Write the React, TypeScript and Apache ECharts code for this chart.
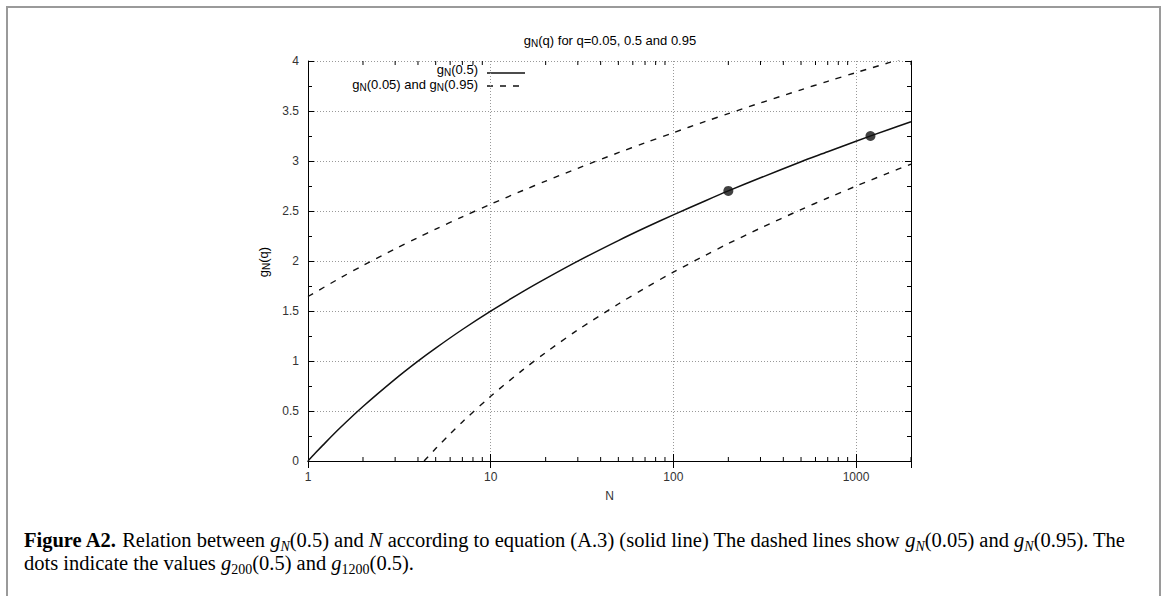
import React, { useEffect, useRef } from "react";
import * as echarts from "echarts";

// N values and g_N(q)
const nMedian = [1, 1.1, 1.2, 1.5, 2, 3, 4, 5, 7, 10, 15, 20, 30, 50, 70, 100, 150, 200, 300, 500, 700, 1000, 1500, 2000];
const gMedian = [0, 0.082, 0.154, 0.332, 0.545, 0.819, 0.999, 1.129, 1.315, 1.499, 1.694, 1.824, 1.999, 2.204, 2.332, 2.461, 2.603, 2.701, 2.832, 2.993, 3.092, 3.198, 3.313, 3.392];

const nUpper = [1, 1.5, 2, 3, 4, 5, 7, 10, 15, 20, 30, 50, 70, 100, 150, 200, 300, 500, 700, 1000, 1500, 2000];
const gUpper = [1.645, 1.83, 1.955, 2.121, 2.234, 2.319, 2.442, 2.568, 2.705, 2.799, 2.927, 3.083, 3.181, 3.283, 3.396, 3.474, 3.581, 3.712, 3.797, 3.884, 3.981, 4.05];

const nLower = [4.32, 4.5, 5, 6, 7, 10, 15, 20, 30, 50, 70, 100, 150, 200, 300, 500, 700, 1000, 1500, 2000];
const gLower = [0, 0.035, 0.124, 0.272, 0.391, 0.647, 0.911, 1.084, 1.311, 1.57, 1.729, 1.888, 2.058, 2.174, 2.329, 2.514, 2.63, 2.749, 2.879, 2.969];

const dotN = [200, 1200];
const dotG = [2.701, 3.25];

const minorXTicks = [2, 3, 4, 5, 6, 7, 8, 9, 20, 30, 40, 50, 60, 70, 80, 90, 200, 300, 400, 500, 600, 700, 800, 900, 2000];
const xTickLabels = [1, 10, 100, 1000];
const yTickLabels = ["0", "0.5", "1", "1.5", "2", "2.5", "3", "3.5", "4"];

const SANS = "'Liberation Sans', Arial, Helvetica, sans-serif";
const SERIF = "'Liberation Serif', 'Times New Roman', serif";

export default function App() {
  const ref = useRef<HTMLDivElement>(null);

  useEffect(() => {
    if (!ref.current) return;
    const chart = echarts.init(ref.current, undefined, { renderer: "svg" });

    const subRich: any = {
      t: { fontSize: 13, fontFamily: SANS, color: "#333", lineHeight: 13 },
      s: {
        fontSize: 10,
        fontFamily: SANS,
        color: "#333",
        lineHeight: 13,
        verticalAlign: "top",
        padding: [5, 0, 0, 0],
      },
    };

    const CF = 20.5;
    const capRich: any = {
      b: { fontFamily: SERIF, fontSize: CF, fontWeight: "bold", color: "#111", lineHeight: 22 },
      n: { fontFamily: SERIF, fontSize: CF, color: "#111", lineHeight: 22 },
      i: { fontFamily: SERIF, fontSize: CF, fontStyle: "italic", color: "#111", lineHeight: 22 },
      s: {
        fontFamily: SERIF,
        fontSize: 14,
        fontStyle: "italic",
        color: "#111",
        lineHeight: 22,
        verticalAlign: "top",
        padding: [10, 0, 0, 0],
      },
      sn: {
        fontFamily: SERIF,
        fontSize: 14,
        color: "#111",
        lineHeight: 22,
        verticalAlign: "top",
        padding: [10, 0, 0, 0],
      },
      l: { fontFamily: SERIF, fontSize: CF, color: "#2a8fce", lineHeight: 22 },
    };

    const option: any = {
      animation: false,
      backgroundColor: "#fff",
      grid: { left: 308, right: 256, top: 61, bottom: 135 },
      xAxis: [
        {
          type: "log",
          logBase: 10,
          min: 1,
          max: 2000,
          position: "bottom",
          name: "N",
          nameLocation: "middle",
          nameGap: 29,
          nameTextStyle: { fontFamily: SANS, fontSize: 12, color: "#333" },
          axisLine: { show: true, lineStyle: { color: "#000", width: 1 } },
          axisTick: { show: true, inside: true, length: 7, lineStyle: { color: "#000" } },
          axisLabel: {
            fontFamily: SANS,
            fontSize: 12,
            color: "#333",
            margin: 10,
            showMaxLabel: false,
            formatter: (v: number) => {
              const hit = xTickLabels.find((t) => Math.abs(t - v) / t < 1e-6);
              return hit !== undefined ? String(hit) : "";
            },
          },
          splitLine: { show: true, lineStyle: { color: "#999", type: [1, 2], width: 1 } },
          minorTick: { show: false },
        },
        {
          type: "log",
          logBase: 10,
          min: 1,
          max: 2000,
          position: "top",
          axisLine: { show: true, lineStyle: { color: "#000", width: 1 } },
          axisTick: { show: true, inside: true, length: 7, lineStyle: { color: "#000" } },
          axisLabel: { show: false },
          splitLine: { show: false },
        },
      ],
      yAxis: [
        {
          type: "value",
          min: 0,
          max: 4,
          interval: 0.5,
          position: "left",
          axisLine: { show: true, lineStyle: { color: "#000", width: 1 } },
          axisTick: { show: true, inside: true, length: 6, lineStyle: { color: "#000" } },
          minorTick: { show: true, splitNumber: 2, length: 4, lineStyle: { color: "#000" } },
          axisLabel: {
            fontFamily: SANS,
            fontSize: 12,
            color: "#333",
            margin: 9,
            formatter: (v: number) => yTickLabels[Math.round(v / 0.5)] ?? String(v),
          },
          splitLine: { show: true, lineStyle: { color: "#999", type: [1, 2], width: 1 } },
        },
        {
          type: "value",
          min: 0,
          max: 4,
          interval: 0.5,
          position: "right",
          axisLine: { show: true, lineStyle: { color: "#000", width: 1 } },
          axisTick: { show: true, inside: true, length: 6, lineStyle: { color: "#000" } },
          minorTick: { show: true, splitNumber: 2, length: 4, lineStyle: { color: "#000" } },
          axisLabel: { show: false },
          splitLine: { show: false },
        },
      ],
      series: [
        {
          type: "line",
          name: "median",
          data: nMedian.map((n, i) => [n, gMedian[i]]),
          smooth: 0.3,
          showSymbol: false,
          lineStyle: { color: "#111", width: 1.5 },
          clip: true,
          z: 5,
        },
        {
          type: "line",
          name: "upper",
          data: nUpper.map((n, i) => [n, gUpper[i]]),
          smooth: 0.3,
          showSymbol: false,
          lineStyle: { color: "#111", width: 1.4, type: [6, 7] },
          clip: true,
          z: 5,
        },
        {
          type: "line",
          name: "lower",
          data: nLower.map((n, i) => [n, gLower[i]]),
          smooth: 0.3,
          showSymbol: false,
          lineStyle: { color: "#111", width: 1.4, type: [6, 7] },
          clip: true,
          z: 5,
        },
        {
          type: "scatter",
          data: dotN.map((n, i) => [n, dotG[i]]),
          symbolSize: 10,
          itemStyle: { color: "#111" },
          z: 6,
        },
        {
          type: "custom",
          data: minorXTicks.map((v) => [v, 0]),
          clip: false,
          silent: true,
          z: 4,
          renderItem: (params: any, api: any) => {
            const v = api.value(0);
            const b = api.coord([v, 0]);
            const t = api.coord([v, 4]);
            return {
              type: "group",
              children: [
                { type: "line", shape: { x1: b[0], y1: b[1], x2: b[0], y2: b[1] - 4 }, style: { stroke: "#000", lineWidth: 1 } },
                { type: "line", shape: { x1: t[0], y1: t[1], x2: t[0], y2: t[1] + 4 }, style: { stroke: "#000", lineWidth: 1 } },
              ],
            };
          },
        },
      ],
      graphic: [
        {
          type: "rect",
          shape: { x: 7, y: 7, width: 1153, height: 620 },
          style: { fill: "none", stroke: "#9a9a9a", lineWidth: 2 },
          silent: true,
        },
        {
          type: "text",
          x: 610,
          y: 40,
          style: {
            text: "{t|g}{s|N}{t|(q) for q=0.05, 0.5 and 0.95}",
            rich: subRich,
            align: "center",
            verticalAlign: "middle",
          },
        },
        {
          type: "text",
          x: 478,
          y: 69,
          style: {
            text: "{t|g}{s|N}{t|(0.5)}",
            rich: subRich,
            align: "right",
            verticalAlign: "middle",
          },
        },
        {
          type: "text",
          x: 478,
          y: 84,
          style: {
            text: "{t|g}{s|N}{t|(0.05) and g}{s|N}{t|(0.95)}",
            rich: subRich,
            align: "right",
            verticalAlign: "middle",
          },
        },
        {
          type: "line",
          shape: { x1: 487, y1: 73, x2: 525, y2: 73 },
          style: { stroke: "#111", lineWidth: 1.5 },
        },
        {
          type: "line",
          shape: { x1: 487, y1: 86, x2: 525, y2: 86 },
          style: { stroke: "#111", lineWidth: 1.4, lineDash: [6, 7] },
        },
        {
          type: "text",
          x: 263,
          y: 262,
          rotation: Math.PI / 2,
          style: {
            text: "{t|g}{s|N}{t|(q)}",
            rich: subRich,
            align: "center",
            verticalAlign: "middle",
          },
        },
        {
          type: "text",
          x: 24,
          y: 540,
          style: {
            text:
              "{b|Figure A2.}{n| Relation between }{i|g}{s|N}{n|(0.5) and }{i|N}{n| according to equation (}{l|A.3}{n|) (solid line) The dashed lines show }{i|g}{s|N}{n|(0.05) and }{i|g}{s|N}{n|(0.95). The}",
            rich: capRich,
            align: "left",
            verticalAlign: "middle",
          },
        },
        {
          type: "text",
          x: 24,
          y: 563,
          style: {
            text: "{n|dots indicate the values }{i|g}{sn|200}{n|(0.5) and }{i|g}{sn|1200}{n|(0.5).}",
            rich: capRich,
            align: "left",
            verticalAlign: "middle",
          },
        },
      ],
    };

    chart.setOption(option);
    return () => chart.dispose();
  }, []);

  return (
    <div
      ref={ref}
      style={{ position: "fixed", left: 0, top: 0, width: 1167, height: 596, background: "#fff" }}
    />
  );
}
